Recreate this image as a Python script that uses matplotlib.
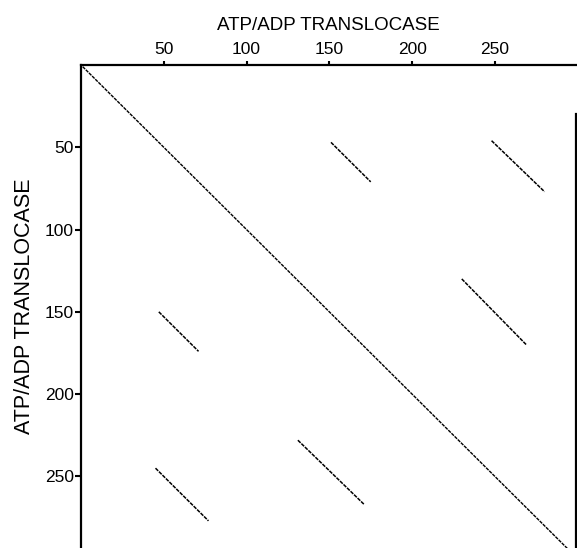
import matplotlib
matplotlib.use("Agg")
import matplotlib.pyplot as plt

# Self dot-plot of ATP/ADP translocase (residue numbers)
diag_x = [1, 297]
diag_y = [1, 297]

# off-diagonal repeat segments: (x_start, x_end), (y_start, y_end)
seg_x = [(151, 175), (248, 280), (230, 269), (47, 71), (131, 171), (45, 77)]
seg_y = [(47, 71), (46, 77), (130, 170), (150, 174), (228, 267), (245, 277)]

xticks = [50, 100, 150, 200, 250]
yticks = [50, 100, 150, 200, 250]
axis_label = "ATP/ADP TRANSLOCASE"

plt.rcParams['font.family'] = ['Liberation Sans', 'DejaVu Sans']

fig = plt.figure(figsize=(5.77, 5.48), dpi=100)
ax = fig.add_axes([81/577, 0.0, (576-81)/577, 1 - 65/548])

ax.plot(diag_x, diag_y, color='black', lw=1.0, ls=(0, (2.5, 0.7)))
for sx, sy in zip(seg_x, seg_y):
    ax.plot(sx, sy, color='black', lw=1.1, ls=(0, (2.5, 0.7)))

ax.set_xlim(0, 299)
ax.set_ylim(293.5, 0)

ax.xaxis.tick_top()
ax.xaxis.set_label_position('top')
ax.set_xticks(xticks)
ax.set_yticks(yticks)
ax.tick_params(axis='both', direction='out', width=1.5,
               labelsize=12.5, colors='black')
ax.tick_params(axis='x', length=3.2, pad=2.5)
ax.tick_params(axis='y', length=4.5, pad=0.5)

for s in ['top', 'left', 'right']:
    ax.spines[s].set_linewidth(1.6)
ax.spines['right'].set_bounds(30, 293.5)
ax.spines['bottom'].set_visible(False)

ax.set_xlabel(axis_label, fontsize=13.5, labelpad=9)
ax.set_ylabel(axis_label, fontsize=15.5, labelpad=7)

fig.savefig("out.png", dpi=100)
